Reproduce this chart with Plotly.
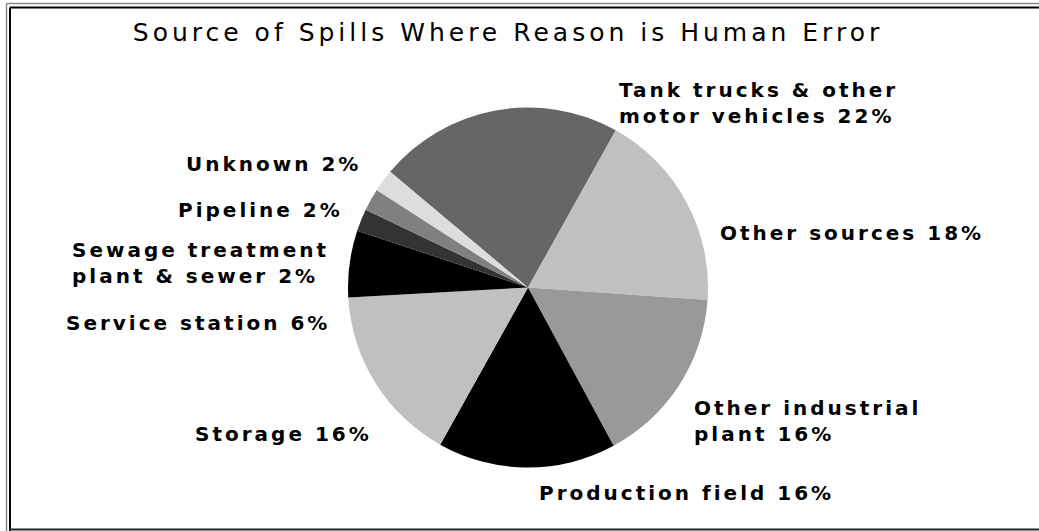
import plotly.graph_objects as go

# Spill sources where the cause was human error (share of spills, %)
sources = [
    "Tank trucks & other<br>motor vehicles",
    "Other sources",
    "Other industrial<br>plant",
    "Production field",
    "Storage",
    "Service station",
    "Sewage treatment<br>plant & sewer",
    "Pipeline",
    "Unknown",
]
shares = [22, 18, 16, 16, 16, 6, 2, 2, 2]
slice_colors = ["#666666", "#c0c0c0", "#999999", "#000000", "#c0c0c0",
                "#000000", "#333333", "#808080", "#dddddd"]

W, H = 1039, 531

# label anchor points in pixels (left edge, vertical centre of the block)
label_xy = [(617, 103), (718, 233), (692, 421), (537, 493), (193, 434),
            (64, 323), (70, 263), (176, 210), (184, 164)]


def px(x):
    return x / W


def py(y):
    return 1 - y / H


fig = go.Figure(
    go.Pie(
        labels=[s.replace("<br>", " ") for s in sources],
        values=shares,
        sort=False,
        direction="clockwise",
        rotation=-50,
        marker=dict(colors=slice_colors, line=dict(width=0)),
        textinfo="none",
        hoverinfo="label+percent",
        showlegend=False,
        domain=dict(x=[px(348), px(708)], y=[py(467.5), py(107.5)]),
    )
)

annotations = []
for name, val, (x, y) in zip(sources, shares, label_xy):
    annotations.append(dict(
        text=f"{name} {val}%",
        x=px(x), y=py(y), xref="paper", yref="paper",
        xanchor="left", yanchor="middle", align="left",
        showarrow=False,
        font=dict(family="DejaVu Sans", size=20, color="#000000", weight="bold"),
    ))

# double frame: thin grey outer rule and heavier black inner rule
frame = [
    dict(type="line", x0=px(6.5), x1=px(6.5), y0=py(3.5), y1=0,
         line=dict(color="#888888", width=1.5)),
    dict(type="line", x0=px(6.5), x1=1, y0=py(3.5), y1=py(3.5),
         line=dict(color="#888888", width=1.5)),
    dict(type="line", x0=px(10), x1=px(10), y0=py(7.5), y1=0,
         line=dict(color="#000000", width=2)),
    dict(type="line", x0=px(10), x1=1, y0=py(7.5), y1=py(7.5),
         line=dict(color="#000000", width=2)),
    dict(type="line", x0=px(9), x1=1, y0=py(529.5), y1=py(529.5),
         line=dict(color="#222222", width=2)),
]

fig.update_layout(
    width=W, height=H,
    margin=dict(l=0, r=0, t=0, b=0),
    paper_bgcolor="#ffffff",
    plot_bgcolor="#ffffff",
    title=dict(
        text="Source of Spills Where Reason is Human Error",
        x=px(508), xanchor="center",
        y=py(32), yanchor="middle",
        font=dict(family="DejaVu Sans", size=25, color="#000000"),
    ),
    annotations=annotations,
    shapes=frame,
)

# widen the tracking of the title and slice labels
spacing_js = """
var st = document.createElement('style');
st.textContent = '.annotation-text{letter-spacing:3px} .gtitle{letter-spacing:4px}';
document.head.appendChild(st);
"""

fig.write_html("out.html", post_script=spacing_js)
